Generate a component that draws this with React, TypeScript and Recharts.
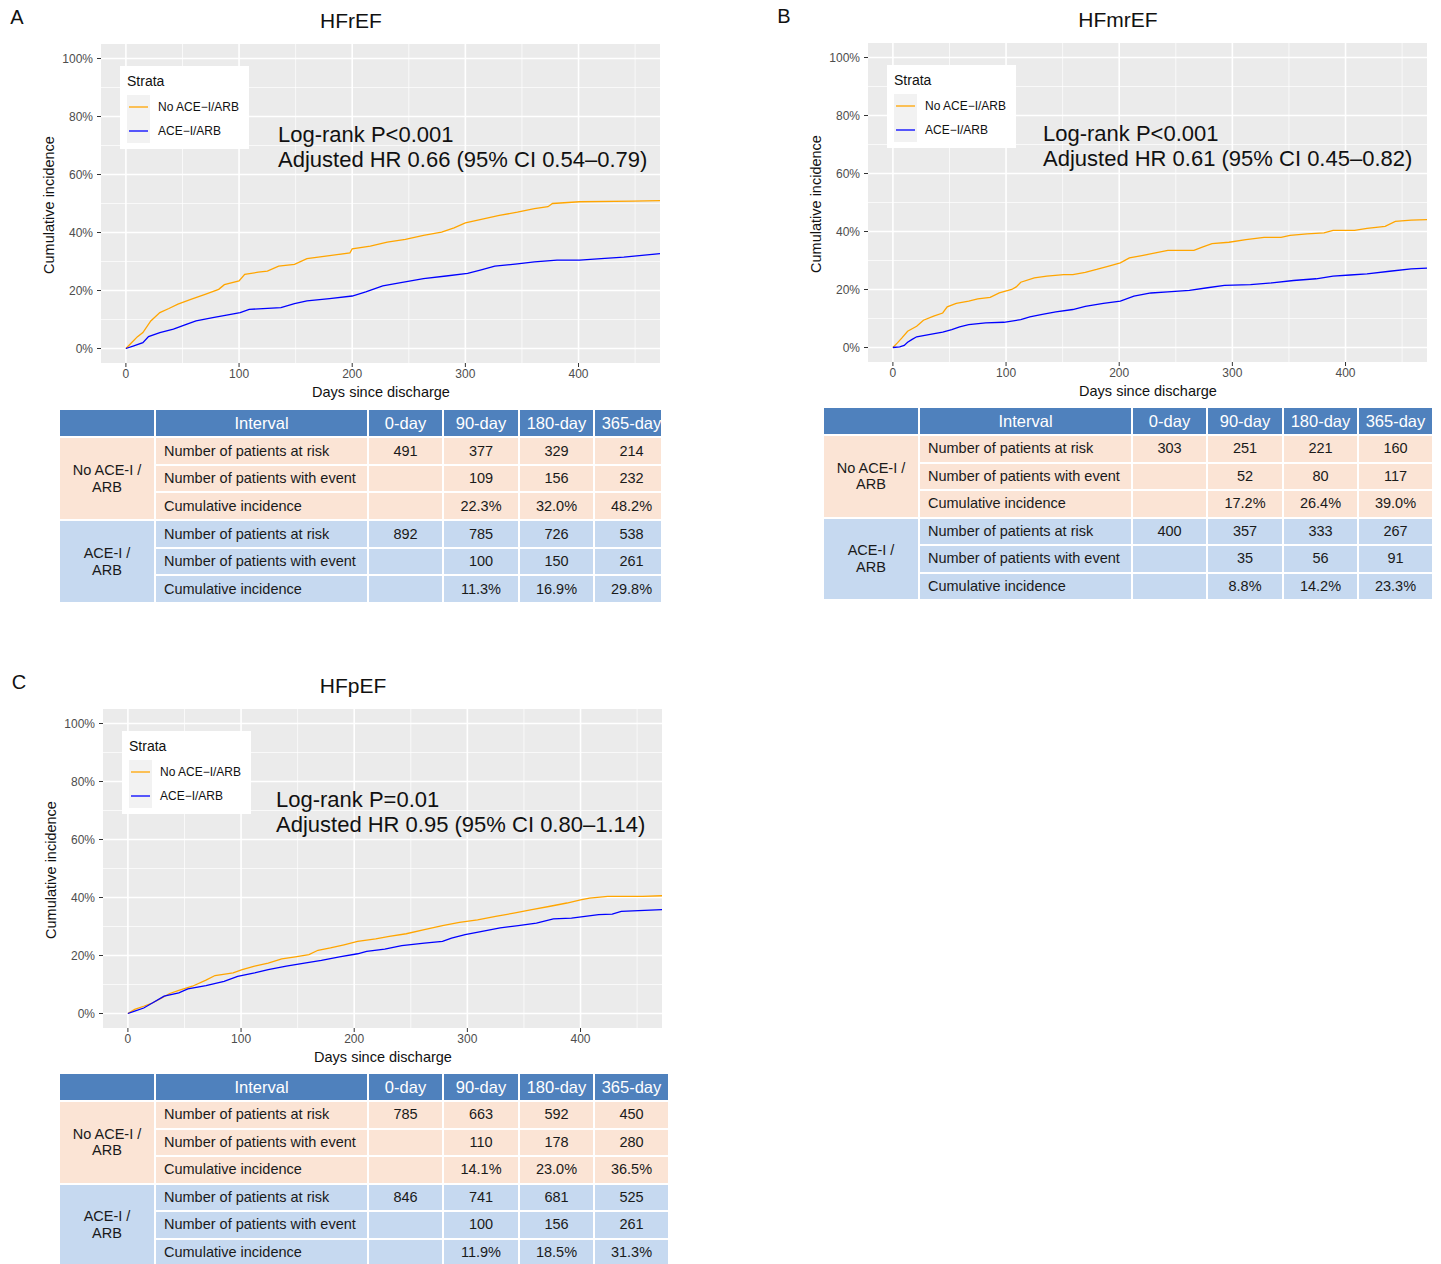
import React from 'react';
import { LineChart, Line, XAxis, YAxis, CartesianGrid } from 'recharts';

const FONT = '"Liberation Sans", Arial, Helvetica, sans-serif';
const ORANGE = '#FFA500';
const BLUE = '#0000FF';

// Axis ticks / gridlines
const xTicks = [0, 100, 200, 300, 400];
const xMinor = [50, 150, 250, 350, 450];
const yTicks = [0, 20, 40, 60, 80, 100];
const yMinor = [10, 30, 50, 70, 90];

const strataLabels = ['No ACE\u2212I/ARB', 'ACE\u2212I/ARB'];

// HFrEF
const hfrefNoDays = [0, 5, 10, 15, 22, 30, 38, 46, 58, 70, 82, 87, 100, 105, 117, 125, 135, 149, 160, 180, 198, 200, 216, 231, 247, 263, 279, 290, 300, 314, 330, 346, 361, 373, 377, 401, 448, 472];
const hfrefNoInc = [0, 2, 4, 5.5, 9.5, 12.4, 13.8, 15.3, 17, 18.7, 20.4, 22, 23.3, 25.6, 26.3, 26.7, 28.4, 29, 31, 32, 33, 34.4, 35.3, 36.7, 37.6, 39, 40.1, 41.6, 43.3, 44.5, 45.9, 47, 48.2, 48.9, 50, 50.6, 50.8, 51];
const hfrefAceDays = [0, 7, 15, 20, 30, 42, 54, 62, 78, 89, 101, 109, 137, 149, 160, 180, 200, 212, 227, 243, 263, 283, 302, 314, 326, 346, 361, 381, 401, 420, 440, 456, 472];
const hfrefAceInc = [0, 0.9, 2, 4.1, 5.5, 6.7, 8.4, 9.5, 10.7, 11.5, 12.4, 13.5, 14.1, 15.5, 16.4, 17.2, 18.1, 19.5, 21.6, 22.7, 24.1, 25, 25.9, 27.1, 28.4, 29.2, 29.9, 30.5, 30.5, 31, 31.5, 32.1, 32.7];

// HFmrEF
const hfmrefNoDays = [0, 4, 8, 13, 21, 27, 36, 44, 48, 56, 67, 75, 86, 94, 105, 109, 113, 125, 136, 151, 159, 170, 180, 190, 201, 209, 220, 232, 243, 266, 274, 282, 297, 312, 328, 343, 351, 366, 381, 389, 408, 419, 435, 444, 458, 472];
const hfmrefNoInc = [0, 1.6, 3.3, 5.6, 7.3, 9.4, 10.8, 11.9, 14, 15.2, 16, 16.8, 17.3, 18.8, 20, 20.9, 22.5, 24, 24.6, 25.1, 25.1, 25.9, 26.9, 28, 29.2, 30.9, 31.7, 32.6, 33.5, 33.5, 34.7, 35.8, 36.3, 37.2, 38, 38, 38.7, 39.2, 39.5, 40.4, 40.4, 41.1, 41.8, 43.5, 43.9, 44.1];
const hfmrefAceDays = [0, 6, 10, 13, 17, 21, 33, 44, 52, 59, 67, 82, 98, 113, 121, 132, 144, 159, 170, 186, 201, 213, 228, 243, 262, 278, 293, 316, 335, 354, 374, 389, 404, 419, 439, 458, 472];
const hfmrefAceInc = [0, 0.2, 0.7, 1.8, 2.8, 3.7, 4.5, 5.3, 6.2, 7.1, 7.9, 8.5, 8.7, 9.6, 10.6, 11.4, 12.3, 13.1, 14.2, 15.2, 16, 17.7, 18.8, 19.2, 19.7, 20.6, 21.4, 21.7, 22.3, 23.1, 23.7, 24.6, 25, 25.4, 26.3, 27.1, 27.4];

// HFpEF
const hfpefNoDays = [0, 6, 14, 22, 30, 37, 45, 57, 69, 77, 93, 101, 112, 124, 136, 148, 160, 168, 179, 191, 203, 219, 231, 246, 262, 278, 293, 309, 325, 341, 357, 372, 388, 400, 408, 424, 455, 472];
const hfpefNoInc = [0, 1.4, 2.5, 3.7, 5.4, 6.9, 8, 9.4, 11.5, 13.1, 14, 15.1, 16.3, 17.4, 18.8, 19.5, 20.3, 21.8, 22.6, 23.7, 24.9, 25.7, 26.6, 27.5, 28.9, 30.3, 31.4, 32.3, 33.5, 34.6, 35.8, 36.9, 38.1, 39.2, 39.8, 40.4, 40.4, 40.6];
const hfpefAceDays = [0, 6, 14, 22, 32, 45, 53, 69, 85, 97, 112, 124, 140, 156, 171, 187, 203, 211, 227, 242, 262, 278, 286, 298, 313, 329, 345, 361, 376, 392, 404, 416, 428, 436, 472];
const hfpefAceInc = [0, 0.8, 1.9, 3.7, 6, 7.1, 8.5, 9.6, 11.1, 12.8, 14, 15.1, 16.3, 17.4, 18.3, 19.5, 20.6, 21.4, 22.2, 23.4, 24.3, 24.9, 26, 27.2, 28.3, 29.5, 30.3, 31.2, 32.6, 32.9, 33.5, 34.1, 34.3, 35.2, 35.8];

// Tables
const intervals = ['0-day', '90-day', '180-day', '365-day'];
const rowLabels = ['Number of patients at risk', 'Number of patients with event', 'Cumulative incidence'];
const groupLabels = [['No ACE-I /', 'ARB'], ['ACE-I /', 'ARB']];

const hfrefNoTable = [['491', '377', '329', '214'], ['', '109', '156', '232'], ['', '22.3%', '32.0%', '48.2%']];
const hfrefAceTable = [['892', '785', '726', '538'], ['', '100', '150', '261'], ['', '11.3%', '16.9%', '29.8%']];
const hfmrefNoTable = [['303', '251', '221', '160'], ['', '52', '80', '117'], ['', '17.2%', '26.4%', '39.0%']];
const hfmrefAceTable = [['400', '357', '333', '267'], ['', '35', '56', '91'], ['', '8.8%', '14.2%', '23.3%']];
const hfpefNoTable = [['785', '663', '592', '450'], ['', '110', '178', '280'], ['', '14.1%', '23.0%', '36.5%']];
const hfpefAceTable = [['846', '741', '681', '525'], ['', '100', '156', '261'], ['', '11.9%', '18.5%', '31.3%']];

const toPoints = (days: number[], inc: number[]) => days.map((d, i) => ({ day: d, inc: inc[i] }));

const YW = 60;
const XH = 30;
const PW = 559;
const PH = 319;

function KMPanel(props: any) {
  const { gx, gy, ax, letter, title, annot1, annot2, noDays, noInc, aceDays, aceInc } = props;
  const noData = toPoints(noDays, noInc);
  const aceData = toPoints(aceDays, aceInc);
  const abs = (l: number, t: number, extra: any = {}) => ({ position: 'absolute' as const, left: l, top: t, fontFamily: FONT, whiteSpace: 'nowrap' as const, lineHeight: 1, ...extra });
  return (
    <>
      <div style={abs(gx - 84, gy - 27, { fontSize: 20, transform: 'translate(-50%,-50%)', color: '#111' })}>{letter}</div>
      <div style={abs(gx + 250, gy - 24, { fontSize: 21, transform: 'translate(-50%,-50%)', color: '#111' })}>{title}</div>
      <div style={abs(gx - YW, gy)}>
        <LineChart width={YW + PW} height={PH + XH} margin={{ top: 0, right: 0, bottom: 0, left: 0 }}>
          <CartesianGrid fill="#EBEBEB" stroke="#FFFFFF" strokeWidth={0.7} horizontalValues={yMinor} verticalValues={xMinor} />
          <CartesianGrid stroke="#FFFFFF" strokeWidth={1.6} horizontalValues={yTicks} verticalValues={xTicks} />
          <XAxis type="number" dataKey="day" domain={[-22, 472]} ticks={xTicks} allowDataOverflow height={XH}
            axisLine={false} tickLine={{ stroke: '#333333' }} tickSize={4}
            tick={{ fill: '#4D4D4D', fontSize: 12, fontFamily: FONT }} />
          <YAxis type="number" dataKey="inc" domain={[-5, 105]} ticks={yTicks} allowDataOverflow width={YW}
            axisLine={false} tickLine={{ stroke: '#333333' }} tickSize={4} tickMargin={4}
            tickFormatter={(v: number) => `${v}%`}
            tick={{ fill: '#4D4D4D', fontSize: 12, fontFamily: FONT }} />
          <Line data={noData} dataKey="inc" type="linear" stroke={ORANGE} strokeWidth={1.3} dot={false} isAnimationActive={false} />
          <Line data={aceData} dataKey="inc" type="linear" stroke={BLUE} strokeWidth={1.3} dot={false} isAnimationActive={false} />
        </LineChart>
      </div>
      {/* Legend */}
      <div style={abs(gx + 19, gy + 22, { width: 129, height: 83, background: '#FFFFFF' })}>
        <div style={abs(7, 8, { fontSize: 14, color: '#111' })}>Strata</div>
        {[ORANGE, BLUE].map((c, i) => (
          <React.Fragment key={i}>
            <svg width={23} height={24} style={{ position: 'absolute', left: 7, top: 29 + i * 24 }}>
              <rect x={0} y={0} width={23} height={24} fill="#F2F2F2" />
              <line x1={2} x2={21} y1={12} y2={12} stroke={c} strokeWidth={1.3} />
            </svg>
            <div style={abs(38, 35 + i * 24, { fontSize: 12, color: '#111' })}>{strataLabels[i]}</div>
          </React.Fragment>
        ))}
      </div>
      <div style={abs(ax, gy + 91, { fontSize: 22, transform: 'translateY(-50%)', color: '#111' })}>{annot1}</div>
      <div style={abs(ax, gy + 116, { fontSize: 22, transform: 'translateY(-50%)', color: '#111' })}>{annot2}</div>
      <div style={abs(gx + 280, gy + 348, { fontSize: 14.5, transform: 'translate(-50%,-50%)', color: '#111' })}>Days since discharge</div>
      <div style={abs(gx - 52, gy + 161, { fontSize: 14.5, transform: 'translate(-50%,-50%) rotate(-90deg)', color: '#111' })}>Cumulative incidence</div>
    </>
  );
}

const colWidths = [96, 213, 75, 76, 75, 75];
const HEADER_BG = '#4F81BD';
const PEACH = '#FBE4D5';
const LIGHTBLUE = '#C6D9F0';

function RiskTable(props: any) {
  const { left, top, clipWidth, clipHeight, noRows, aceRows, rowH, headH } = props;
  const cell = (extra: any = {}) => ({
    border: '2px solid #FFFFFF', padding: 0, fontFamily: FONT, fontSize: 14.5, color: '#1A1A1A',
    textAlign: 'center' as const, verticalAlign: 'middle' as const, lineHeight: 1.15, ...extra,
  });
  const groups = [noRows, aceRows];
  const bgs = [PEACH, LIGHTBLUE];
  return (
    <div style={{ position: 'absolute', left, top, width: clipWidth, height: clipHeight, overflow: 'hidden' }}>
      <table style={{ borderCollapse: 'collapse', tableLayout: 'fixed', width: 610, margin: '-1px 0 0 -1px' }}>
        <colgroup>
          {colWidths.map((w, i) => <col key={i} style={{ width: w }} />)}
        </colgroup>
        <tbody>
          <tr style={{ height: headH }}>
            <td style={cell({ background: HEADER_BG })}></td>
            <td style={cell({ background: HEADER_BG, color: '#FFFFFF', fontSize: 16.5 })}>Interval</td>
            {intervals.map((s) => <td key={s} style={cell({ background: HEADER_BG, color: '#FFFFFF', fontSize: 16.5 })}>{s}</td>)}
          </tr>
          {groups.map((rows: string[][], g: number) => rows.map((vals: string[], r: number) => (
            <tr key={`${g}-${r}`} style={{ height: rowH }}>
              {r === 0 && (
                <td rowSpan={3} style={cell({ background: bgs[g] })}>
                  {groupLabels[g][0]}<br />{groupLabels[g][1]}
                </td>
              )}
              <td style={cell({ background: bgs[g], textAlign: 'left', paddingLeft: 8 })}>{rowLabels[r]}</td>
              {vals.map((v, k) => <td key={k} style={cell({ background: bgs[g] })}>{v}</td>)}
            </tr>
          )))}
        </tbody>
      </table>
    </div>
  );
}

export default function App() {
  return (
    <div style={{ position: 'absolute', left: 0, top: 0, width: 1441, height: 1264, background: '#FFFFFF', overflow: 'hidden' }}>
      <KMPanel gx={101} gy={44} ax={278} letter="A" title="HFrEF"
        annot1="Log-rank P<0.001" annot2={'Adjusted HR 0.66 (95% CI 0.54\u20130.79)'}
        noDays={hfrefNoDays} noInc={hfrefNoInc} aceDays={hfrefAceDays} aceInc={hfrefAceInc} />
      <KMPanel gx={868} gy={43} ax={1043} letter="B" title="HFmrEF"
        annot1="Log-rank P<0.001" annot2={'Adjusted HR 0.61 (95% CI 0.45\u20130.82)'}
        noDays={hfmrefNoDays} noInc={hfmrefNoInc} aceDays={hfmrefAceDays} aceInc={hfmrefAceInc} />
      <KMPanel gx={103} gy={709} ax={276} letter="C" title="HFpEF"
        annot1="Log-rank P=0.01" annot2={'Adjusted HR 0.95 (95% CI 0.80\u20131.14)'}
        noDays={hfpefNoDays} noInc={hfpefNoInc} aceDays={hfpefAceDays} aceInc={hfpefAceInc} />
      <RiskTable left={59} top={409} clipWidth={602} clipHeight={195} rowH={27.7} headH={28}
        noRows={hfrefNoTable} aceRows={hfrefAceTable} />
      <RiskTable left={823} top={407} clipWidth={610} clipHeight={194} rowH={27.5} headH={28}
        noRows={hfmrefNoTable} aceRows={hfmrefAceTable} />
      <RiskTable left={59} top={1073} clipWidth={610} clipHeight={200} rowH={27.5} headH={28}
        noRows={hfpefNoTable} aceRows={hfpefAceTable} />
    </div>
  );
}
